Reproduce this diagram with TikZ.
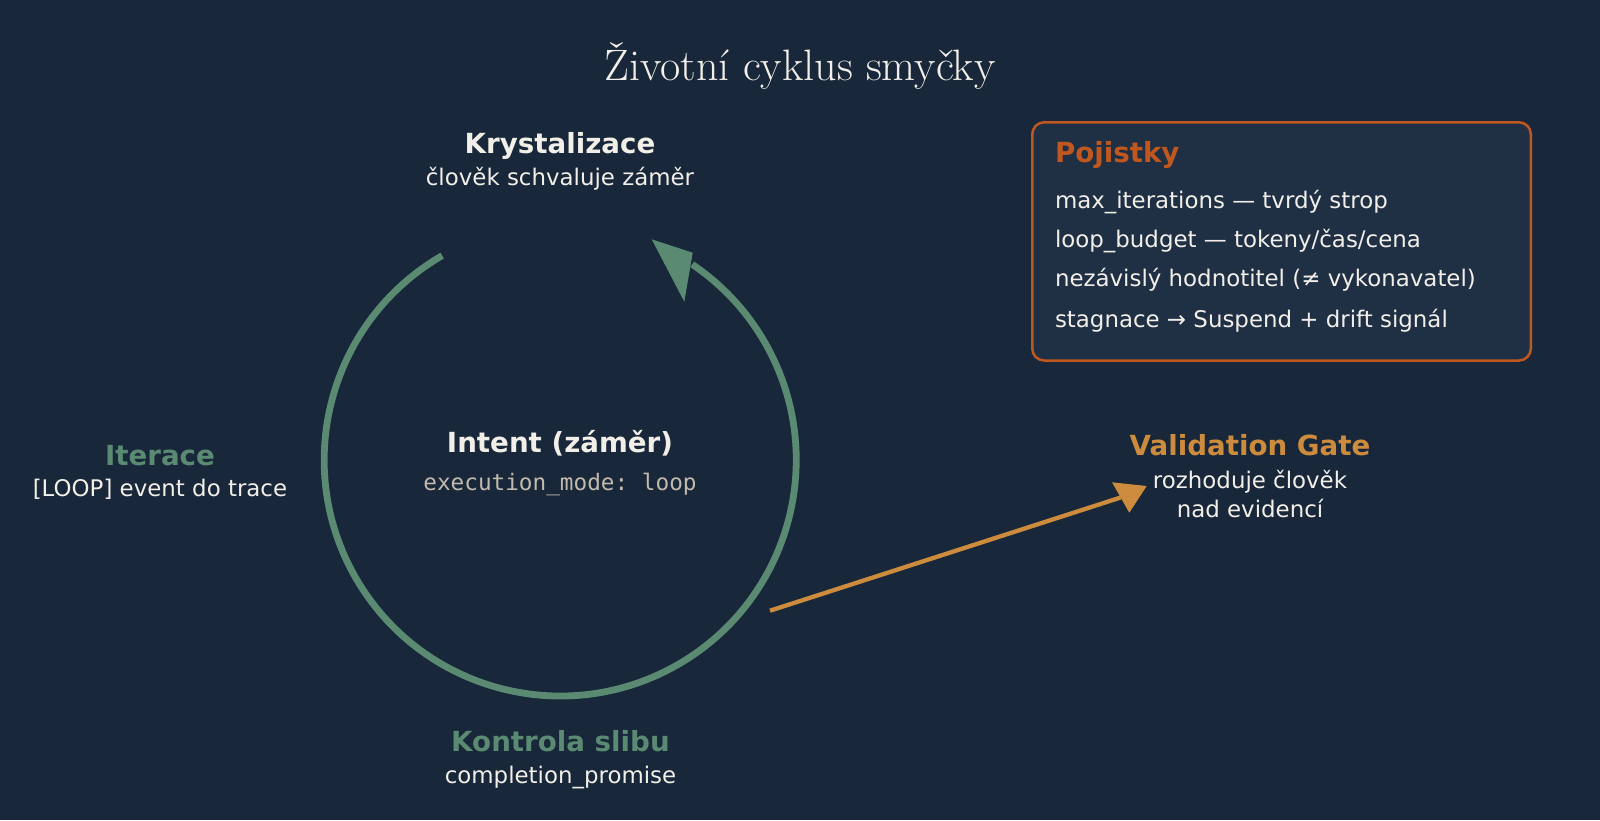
\documentclass[tikz,border=0pt]{standalone}
\usepackage{fontspec}
\usetikzlibrary{calc}
\setsansfont{DejaVu Sans}
\setmonofont{DejaVu Sans Mono}
\definecolor{bg}{HTML}{182739}
\definecolor{boxbg}{HTML}{1F3045}
\definecolor{rust}{HTML}{C0571F}
\definecolor{sage}{HTML}{5A8A72}
\definecolor{amber}{HTML}{CD8B3D}
\definecolor{txt}{HTML}{F2EEE8}
\definecolor{monogray}{HTML}{C2BAAE}
\tikzset{
  lbl/.style={anchor=base, inner sep=0pt, outer sep=0pt},
  boldtxt/.style={lbl, font=\sffamily\bfseries\fontsize{27.7}{33}\selectfont},
  regtxt/.style={lbl, text=txt, font=\sffamily\fontsize{22.9}{27}\selectfont},
  monotxt/.style={lbl, text=monogray, font=\ttfamily\fontsize{22.7}{27}\selectfont},
  boxline/.style={regtxt, anchor=base west},
  loopline/.style={draw=sage, line width=6.8pt},
  gatearrow/.style={draw=amber, line width=4.3pt},
}
\begin{document}
\begin{tikzpicture}[x=1pt,y=-1pt]
\fill[bg] (0,0) rectangle (1600,820);
\useasboundingbox (0,0) rectangle (1600,820);

% title
\node[lbl, text=txt, font=\rmfamily\fontsize{44}{52}\selectfont] (title) at (800,80) {Životní cyklus smyčky};

% loop circle
\coordinate (c) at (560.2,460);
\draw[loopline] (c) ++(120:236pt) arc[start angle=120, end angle=416, radius=236pt];
\coordinate (gtip) at (651.7,239.3);
\coordinate (gc1) at (692.7,252.7);
\coordinate (gc2) at (684.3,301.7);
\fill[sage] (gtip) -- (gc1) -- (gc2) -- cycle;

% labels around the loop
\node[boldtxt, text=txt] (kryst) at (560,153.3) {Krystalizace};
\node[regtxt] (krystsub) at (560,185.7) {člověk schvaluje záměr};

\node[boldtxt, text=txt] (intent) at (560,452.3) {Intent (záměr)};
\node[monotxt] (mode) at (560,490) {execution\_mode: loop};

\node[boldtxt, text=sage] (iter) at (160,465) {Iterace};
\node[regtxt] (itersub) at (160,496.7) {[LOOP] event do trace};

\node[boldtxt, text=sage] (kontr) at (560.5,751.7) {Kontrola slibu};
\node[regtxt] (kontrsub) at (560.5,783.3) {completion\_promise};

% validation gate
\node[boldtxt, text=amber] (gate) at (1250,455) {Validation Gate};
\node[regtxt] (gate1) at (1250,488.3) {rozhoduje člověk};
\node[regtxt] (gate2) at (1250,517.3) {nad evidencí};

\coordinate (ostart) at (770,610.7);
\coordinate (otip) at (1146.7,486);
\coordinate (oc1) at (1112,482.3);
\coordinate (oc2) at (1129.3,512.7);
\draw[gatearrow] (ostart) -- ($(oc1)!0.5!(oc2)$);
\fill[amber] (otip) -- (oc1) -- (oc2) -- cycle;

% Pojistky box
\node[draw=rust, fill=boxbg, line width=2.5pt, rounded corners=12pt, anchor=north west,
      minimum width=498.6pt, minimum height=238.3pt, inner sep=0pt] (box) at (1031,121) {};
\node[boldtxt, text=rust, anchor=base west] (boxtitle) at (1055,162.3) {Pojistky};
\node[boxline] (b1) at (1055,208.3) {max\_iterations — tvrdý strop};
\node[boxline] (b2) at (1055,247.3) {loop\_budget — tokeny/čas/cena};
\node[boxline] (b3) at (1055,286.7) {nezávislý hodnotitel (≠ vykonavatel)};
\node[boxline] (b4) at (1055,327.3) {stagnace → Suspend + drift signál};
\end{tikzpicture}
\end{document}
